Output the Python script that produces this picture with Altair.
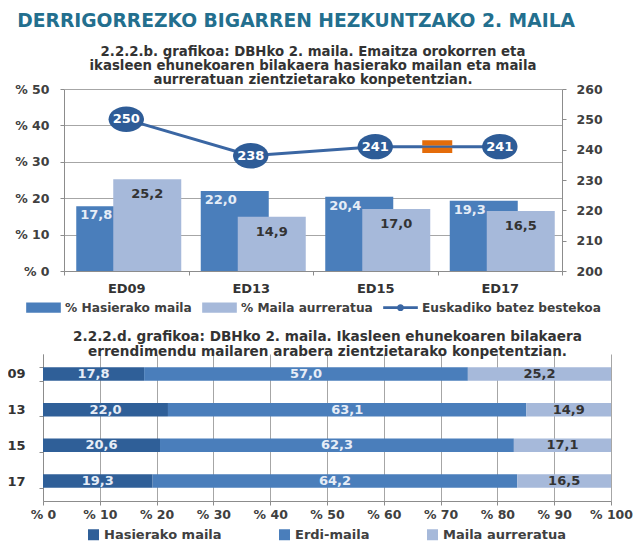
import altair as alt
import pandas as pd

# ---------------- data ----------------
cats = ["ED09", "ED13", "ED15", "ED17"]

# top chart (2.2.2.b)
hasierako = [17.8, 22.0, 20.4, 19.3]
aurreratua = [25.2, 14.9, 17.0, 16.5]
batez_bestekoa = [250, 238, 241, 241]
series_names = ["% Hasierako maila", "% Maila aurreratua", "Euskadiko batez bestekoa"]
break_cat = ["ED15"]
break_val = [241]

# bottom chart (2.2.2.d)
levels = ["Hasierako maila", "Erdi-maila", "Maila aurreratua"]
lvl_hasierako = [17.8, 22.0, 20.6, 19.3]
lvl_erdi = [57.0, 63.1, 62.3, 64.2]
lvl_aurreratua = [25.2, 14.9, 17.1, 16.5]

left_ticks = [0, 10, 20, 30, 40, 50]
right_ticks = [200, 210, 220, 230, 240, 250, 260]
bottom_ticks = [0, 10, 20, 30, 40, 50, 60, 70, 80, 90, 100]

main_title = "DERRIGORREZKO BIGARREN HEZKUNTZAKO 2. MAILA"
top_title = [
    "2.2.2.b. grafikoa: DBHko 2. maila. Emaitza orokorren eta",
    "ikasleen ehunekoaren bilakaera hasierako mailan eta maila",
    "aurreratuan zientzietarako konpetentzian.",
]
bottom_title = [
    "2.2.2.d. grafikoa: DBHko 2. maila. Ikasleen ehunekoaren bilakaera",
    "errendimendu mailaren arabera zientzietarako konpetentzian.",
]

# ---------------- styles ----------------
FONT = "DejaVu Sans"
TXT = "#404040"
DARK = "#4a7ebb"
DARKEST = "#2f5f98"
LIGHT = "#a6b9da"
LINE = "#3a66a3"
MARKER = "#2e5c97"
ORANGE = "#e46c0a"
GRID = "#a6a6a6"
AXIS = "#8c8c8c"

RECT_PATH = "M -1 -0.3 H 1 V 0.3 H -1 Z"
LINEDOT_PATH = ("M -1 -0.08 H 1 V 0.08 H -1 Z "
                "M 0.2 0 A 0.2 0.2 0 1 1 -0.2 0 A 0.2 0.2 0 1 1 0.2 0 Z")
ELLIPSE_PATH = "M -1 0 A 1 0.72 0 1 0 1 0 A 1 0.72 0 1 0 -1 0 Z"
BREAK_PATH = "M -1 -0.42 H 1 V -0.07 H -1 Z M -1 0.07 H 1 V 0.42 H -1 Z"


def fmt(v):
    return f"{v:.1f}".replace(".", ",")


top_df = pd.DataFrame({
    "cat": cats,
    "hasierako": hasierako,
    "aurreratua": aurreratua,
    "score": batez_bestekoa,
    "lab_h": [fmt(v) for v in hasierako],
    "lab_a": [fmt(v) for v in aurreratua],
    "series": [series_names[2]] * len(cats),
})
break_df = pd.DataFrame({"cat": break_cat, "score": break_val})

rows = []
for i, c in enumerate(cats):
    for j, (lv, arr) in enumerate(zip(levels, [lvl_hasierako, lvl_erdi, lvl_aurreratua])):
        rows.append({"cat": c, "level": lv, "value": arr[i], "ord": j, "label": fmt(arr[i])})
bot_df = pd.DataFrame(rows)

# ---------------- top chart ----------------
x_top = alt.X(
    "cat:N", sort=cats, title=None,
    scale=alt.Scale(paddingInner=0, paddingOuter=0),
    axis=alt.Axis(tickBand="extent", labelAngle=0, labelPadding=7, labelFontSize=13,
                  labelColor="#333333", domainColor=AXIS, tickColor=AXIS),
)
y_left_scale = alt.Scale(domain=[0, 50])
y_left_axis = alt.Axis(values=left_ticks, labelExpr="'% ' + datum.value", grid=True,
                       gridColor=GRID, labelPadding=11, orient="left")


def yl(field):
    return alt.Y(field, scale=y_left_scale, title=None, axis=y_left_axis)


base = alt.Chart(top_df)
dark_bars = base.mark_bar(color=DARK, width=68, xOffset=-16).encode(x=x_top, y=yl("hasierako:Q"))
light_bars = base.mark_bar(color=LIGHT, width=68, xOffset=21).encode(x=x_top, y=yl("aurreratua:Q"))
dark_text = base.mark_text(
    xOffset=-30, dy=9, color="#e6edf7", font=FONT, fontWeight="bold", fontSize=13,
    baseline="middle").encode(x=x_top, y=yl("hasierako:Q"), text="lab_h:N")
light_text = base.mark_text(
    xOffset=21, dy=15, color="#333333", font=FONT, fontWeight="bold", fontSize=13,
    baseline="middle").encode(x=x_top, y=yl("aurreratua:Q"), text="lab_a:N")
left_layer = alt.layer(dark_bars, light_bars, dark_text, light_text)

y_right_scale = alt.Scale(domain=[200, 260])
y_right_axis = alt.Axis(orient="right", values=right_ticks, grid=False, labelPadding=10)
y_right = alt.Y("score:Q", scale=y_right_scale, title=None, axis=y_right_axis)

top_legend = alt.Legend(
    title=None, orient="none", direction="horizontal", legendX=-38, legendY=201,
    symbolSize=1200, labelFont=FONT, labelFontWeight="bold", labelFontSize=12.2,
    labelColor=TXT, columnPadding=10, labelOffset=4, symbolStrokeWidth=0, labelLimit=400,
)
line = base.mark_line(color=LINE, strokeWidth=3).encode(x=x_top, y=y_right)
legend_pts = base.mark_point(filled=True, size=1200, opacity=1).encode(
    x=x_top, y=y_right,
    color=alt.Color("series:N", scale=alt.Scale(domain=series_names, range=[DARK, LIGHT, LINE]),
                    legend=top_legend),
    shape=alt.Shape("series:N", scale=alt.Scale(domain=series_names,
                                                range=[RECT_PATH, RECT_PATH, LINEDOT_PATH]),
                    legend=top_legend),
)
ellipses = base.mark_point(filled=True, shape=ELLIPSE_PATH, size=1250, color=MARKER,
                           opacity=1).encode(x=x_top, y=y_right)
ell_text = base.mark_text(color="white", font=FONT, fontWeight="bold", fontSize=13,
                          baseline="middle").encode(x=x_top, y=y_right, text="score:Q")
brk = alt.Chart(break_df).mark_point(filled=True, shape=BREAK_PATH, size=900, color=ORANGE,
                                     opacity=1, xOffset=62).encode(x=x_top, y=y_right)
right_layer = alt.layer(line, legend_pts, ellipses, ell_text, brk)

top = alt.layer(left_layer, right_layer).resolve_scale(y="independent").properties(
    width=498, height=182,
    title=alt.TitleParams(top_title, anchor="middle", font=FONT, fontWeight="bold",
                          fontSize=13.3, color="#333333", lineHeight=14, offset=-3),
)

# ---------------- bottom chart ----------------
x_bot_scale = alt.Scale(domain=[0, 100], range=[-21, 547])
x_bot_axis = alt.Axis(values=bottom_ticks, labelExpr="'% ' + datum.value", grid=True,
                      gridColor=GRID, labelPadding=3, labelOverlap=False, labelFlush=False)
y_bot_axis = alt.Axis(offset=21, tickBand="extent", labelPadding=14, labelFontSize=13,
                      labelColor="#333333")
y_bot_scale = alt.Scale(paddingInner=0.62, paddingOuter=0.37)
bot_legend = alt.Legend(
    title=None, orient="none", direction="horizontal", legendX=23, legendY=174,
    symbolType="square", symbolSize=121, symbolStrokeWidth=0, labelFont=FONT,
    labelFontWeight="bold", labelFontSize=13, labelColor=TXT, columnPadding=56,
    labelOffset=4, labelLimit=400,
)
bbase = alt.Chart(bot_df)
stack_bars = bbase.mark_bar().encode(
    x=alt.X("value:Q", stack="zero", scale=x_bot_scale, title=None, axis=x_bot_axis),
    y=alt.Y("cat:N", sort=cats, title=None, scale=y_bot_scale, axis=y_bot_axis),
    color=alt.Color("level:N", scale=alt.Scale(domain=levels, range=[DARKEST, DARK, LIGHT]),
                    legend=bot_legend),
    order=alt.Order("ord:Q"),
)
stack_text = bbase.transform_window(
    cum="sum(value)", groupby=["cat"], sort=[alt.SortField("ord")]
).transform_calculate(mid="datum.cum - datum.value / 2").mark_text(
    font=FONT, fontWeight="bold", fontSize=13, baseline="middle"
).encode(
    x=alt.X("mid:Q", scale=x_bot_scale, title=None, axis=x_bot_axis),
    y=alt.Y("cat:N", sort=cats, title=None, scale=y_bot_scale, axis=y_bot_axis),
    text="label:N",
    color=alt.condition("datum.level == 'Maila aurreratua'", alt.value("#333333"),
                        alt.value("#e6edf7")),
)
bottom = alt.layer(stack_bars, stack_text).properties(
    width=547, height=147,
    title=alt.TitleParams(bottom_title, anchor="middle", font=FONT, fontWeight="bold",
                          fontSize=13.6, color="#333333", lineHeight=15, offset=-11, dx=-10),
)

chart = alt.vconcat(top, bottom, spacing=16).resolve_scale(
    color="independent", shape="independent"
).properties(
    title=alt.TitleParams(main_title, anchor="start", font=FONT, fontWeight="bold",
                          fontSize=18.7, color="#236f8e", offset=14, dx=30),
    padding={"left": -21, "top": 4, "right": 0, "bottom": 0},
).configure_view(stroke=None).configure_axis(
    labelFont=FONT, labelFontWeight="bold", labelFontSize=12.5, labelColor=TXT,
    domainColor=AXIS, tickColor=AXIS, tickSize=4,
)

chart.save("out.html", embed_options={"renderer": "svg", "actions": False})
